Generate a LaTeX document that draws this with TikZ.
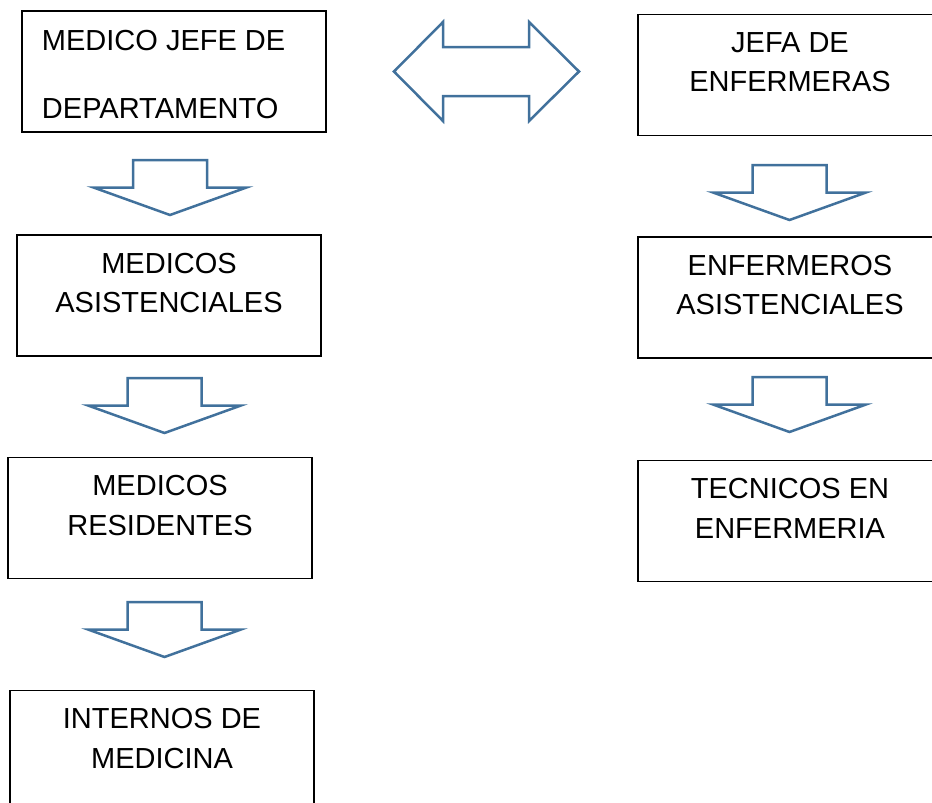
\documentclass[tikz,border=0pt]{standalone}
\usepackage{fontspec}
\setmainfont{Liberation Sans}
\definecolor{azulflecha}{RGB}{65,113,156}
\newcommand{\enCaja}[1]{\parbox[c][121pt][t]{304pt}{\fontsize{29}{39.5}\selectfont\centering\vspace*{18pt}#1}}
\newcommand{\enCajaIzq}[1]{\parbox[c][121pt][t]{304pt}{\fontsize{29}{68}\selectfont\raggedright\leftskip=20pt\vspace*{19pt}#1}}
\tikzset{
	cajon/.style={draw=black,line width=1.8pt,inner sep=0pt},
	flecha/.style={draw=azulflecha,line width=2.5pt,line join=miter},
	bajar/.pic={\draw[flecha] (-37,-27.5) -- (37,-27.5) -- (37,0) -- (76.5,0) -- (0,27.5) -- (-76.5,0) -- (-37,0) -- cycle;}
}
\begin{document}
\begin{tikzpicture}[x=1pt,y=-1pt]
	\useasboundingbox (0,0) rectangle (932,803);
	\clip (0,0) rectangle (932,803);
	% columna de medicos
	\node[cajon] (jefe) at (174,71.5) {\enCajaIzq{MEDICO JEFE DE\\DEPARTAMENTO}};
	\node[cajon] (asist) at (169,295.5) {\enCaja{MEDICOS\\ASISTENCIALES}};
	\node[cajon] (resid) at (160,518) {\enCaja{MEDICOS\\RESIDENTES}};
	\node[cajon] (intern) at (162,751) {\enCaja{INTERNOS DE\\MEDICINA}};
	% columna de enfermeria
	\node[cajon] (jefa) at (790,75) {\enCaja{JEFA DE\\ENFERMERAS}};
	\node[cajon] (enfasist) at (790,297.5) {\enCaja{ENFERMEROS\\ASISTENCIALES}};
	\node[cajon] (tecn) at (790,521) {\enCaja{TECNICOS EN\\ENFERMERIA}};
	% flechas
	\pic at (170,187.5) {bajar};
	\pic at (164.5,405.5) {bajar};
	\pic at (164.5,629.5) {bajar};
	\pic at (789.5,192.5) {bajar};
	\pic at (789.5,404.5) {bajar};
	\draw[flecha] (394,71.5) -- (443,22) -- (443,47) -- (529,47) -- (529,22) -- (579,71.5)
		-- (529,121) -- (529,96) -- (443,96) -- (443,121) -- cycle;
\end{tikzpicture}
\end{document}
